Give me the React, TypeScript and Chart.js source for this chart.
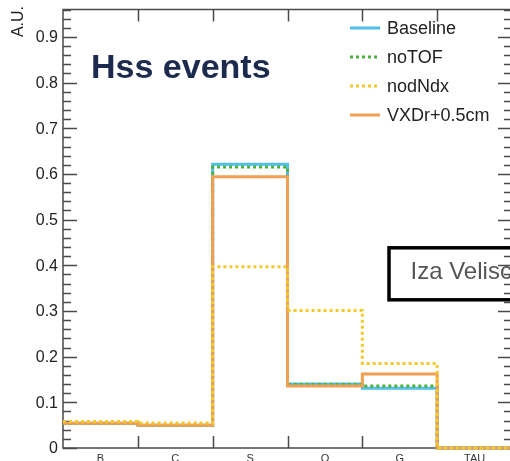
import { useEffect, useRef } from "react";
import { Chart, registerables } from "chart.js";

Chart.register(...registerables);

const categories = ["B", "C", "S", "O", "G", "TAU"];
const baseline = [0.054, 0.05, 0.621, 0.14, 0.131, 0];
const noTOF = [0.054, 0.05, 0.615, 0.139, 0.136, 0];
const nodNdx = [0.058, 0.055, 0.397, 0.301, 0.185, 0];
const vxdShift = [0.054, 0.05, 0.594, 0.136, 0.162, 0];
const yMajorTicks = [0, 0.1, 0.2, 0.3, 0.4, 0.5, 0.6, 0.7, 0.8, 0.9];
const yTickLabels = ["0", "0.1", "0.2", "0.3", "0.4", "0.5", "0.6", "0.7", "0.8", "0.9"];
const seriesNames = ["Baseline", "noTOF", "nodNdx", "VXDr+0.5cm"];

const Y_MAX = 0.96;
const FONT = "'Liberation Sans', Arial, Helvetica, sans-serif";

function toSteps(vals: number[]) {
  const pts = vals.map((y, i) => ({ x: i, y }));
  pts.push({ x: vals.length, y: vals[vals.length - 1] });
  return pts;
}

const framePlugin = {
  id: "rootFrame",
  beforeDatasetsDraw(chart: any) {
    const ctx = chart.ctx;
    const { left, right, top, bottom } = chart.chartArea;
    const xs = chart.scales.x;
    const ys = chart.scales.y;
    ctx.save();
    ctx.strokeStyle = "#4a4a4a";
    ctx.lineWidth = 1.5;
    ctx.strokeRect(left, top, right - left, bottom - top);
    ctx.beginPath();
    for (let k = 0; k <= Math.round(Y_MAX / 0.02); k++) {
      const v = k * 0.02;
      if (v > Y_MAX + 1e-9) break;
      const py = Math.round(ys.getPixelForValue(v)) + 0.5;
      const major = k % 5 === 0;
      const len = major ? 14 : 8;
      ctx.moveTo(left, py);
      ctx.lineTo(left + len, py);
      ctx.moveTo(right, py);
      ctx.lineTo(right - len, py);
    }
    for (let i = 1; i < categories.length; i++) {
      const px = Math.round(xs.getPixelForValue(i)) + 0.5;
      ctx.moveTo(px, bottom);
      ctx.lineTo(px, bottom - 12);
      ctx.moveTo(px, top);
      ctx.lineTo(px, top + 12);
    }
    ctx.stroke();

    ctx.fillStyle = "#222";
    ctx.font = `16px ${FONT}`;
    ctx.textAlign = "right";
    ctx.textBaseline = "middle";
    yMajorTicks.forEach((v, i) => {
      ctx.fillText(yTickLabels[i], left - 5, ys.getPixelForValue(v) + 1);
    });

    ctx.font = `11px ${FONT}`;
    ctx.textAlign = "center";
    ctx.textBaseline = "alphabetic";
    ctx.fillStyle = "#333";
    categories.forEach((c, i) => {
      ctx.fillText(c, xs.getPixelForValue(i + 0.5), bottom + 14);
    });

    ctx.save();
    ctx.translate(19, 6);
    ctx.rotate(-Math.PI / 2);
    ctx.font = `16px ${FONT}`;
    ctx.fillStyle = "#222";
    ctx.textAlign = "right";
    ctx.textBaseline = "middle";
    ctx.fillText("A.U.", 0, 0);
    ctx.restore();

    ctx.font = `bold 34px ${FONT}`;
    ctx.fillStyle = "#1c2a4e";
    ctx.textAlign = "left";
    ctx.textBaseline = "alphabetic";
    ctx.fillText("Hss events", 91, 78);

    ctx.strokeStyle = "#000";
    ctx.lineWidth = 3.5;
    ctx.strokeRect(389, 247.8, 200, 52);
    ctx.fillStyle = "#555";
    ctx.font = `24px ${FONT}`;
    ctx.fillText("Iza Veliscek", 410.5, 279);
    ctx.restore();
  },
  afterDraw(chart: any) {
    const ctx = chart.ctx;
    ctx.save();
    const rows = [28, 57, 86, 115];
    chart.data.datasets.forEach((ds: any, i: number) => {
      const y = rows[i];
      ctx.beginPath();
      ctx.strokeStyle = ds.borderColor;
      ctx.lineWidth = 3;
      ctx.setLineDash(ds.borderDash || []);
      ctx.moveTo(350, y);
      ctx.lineTo(380, y);
      ctx.stroke();
      ctx.setLineDash([]);
      ctx.fillStyle = "#222";
      ctx.font = `18px ${FONT}`;
      ctx.textAlign = "left";
      ctx.textBaseline = "middle";
      ctx.fillText(seriesNames[i], 387, y + 1);
    });
    ctx.restore();
  },
};

export default function App() {
  const ref = useRef<HTMLCanvasElement | null>(null);
  useEffect(() => {
    if (!ref.current) return;
    const common = {
      stepped: true as const,
      pointRadius: 0,
      borderWidth: 3,
      fill: false,
      tension: 0,
      clip: 4,
      borderCapStyle: "butt" as const,
    };
    const chart = new Chart(ref.current, {
      type: "line",
      data: {
        datasets: [
          { ...common, label: seriesNames[0], data: toSteps(baseline), borderColor: "#4fc0ec", order: 4 },
          { ...common, label: seriesNames[1], data: toSteps(noTOF), borderColor: "#4bb03a", borderDash: [3, 3], order: 3 },
          { ...common, label: seriesNames[2], data: toSteps(nodNdx), borderColor: "#f4c92c", borderDash: [3, 3], order: 1 },
          { ...common, label: seriesNames[3], data: toSteps(vxdShift), borderColor: "#f0a050", order: 2 },
        ],
      },
      options: {
        responsive: false,
        devicePixelRatio: 1,
        animation: false,
        events: [],
        layout: { padding: { left: 63, top: 9.5, right: 530 - 512, bottom: 461 - 448 } },
        plugins: { legend: { display: false }, tooltip: { enabled: false } },
        scales: {
          x: { type: "linear", min: 0, max: categories.length, display: false },
          y: { type: "linear", min: 0, max: Y_MAX, display: false },
        },
      },
      plugins: [framePlugin],
    });
    return () => chart.destroy();
  }, []);
  return (
    <div style={{ position: "fixed", left: 0, top: 0, width: 510, height: 461, overflow: "hidden", background: "#fff" }}>
      <canvas ref={ref} width={530} height={461} style={{ display: "block", width: 530, height: 461 }} />
    </div>
  );
}
